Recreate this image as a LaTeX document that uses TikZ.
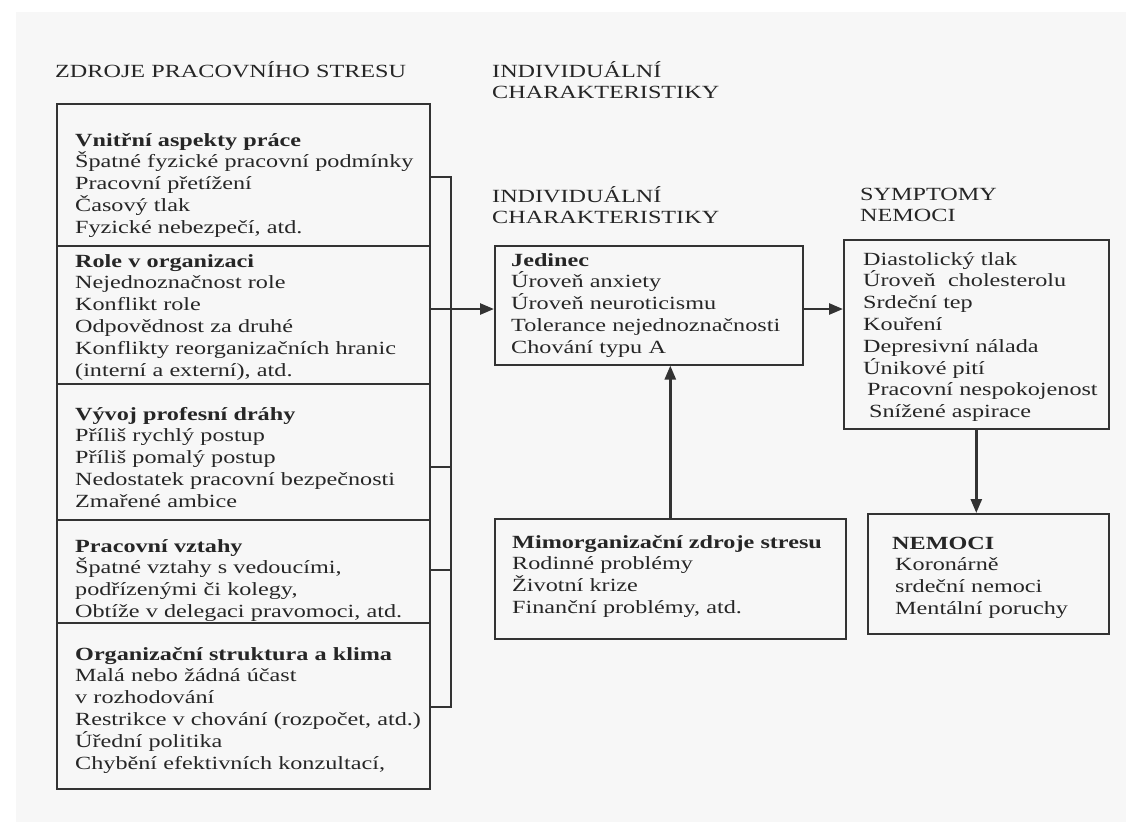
\documentclass[tikz,border=0pt]{standalone}
\usepackage{fontspec}
\setmainfont{Liberation Serif}[FakeStretch=1.3]
\usetikzlibrary{arrows.meta,positioning,calc}

\begin{document}
\begin{tikzpicture}[
      x=1pt,y=-1pt,
      box/.style={draw=black!80,line width=1.6pt,inner sep=0pt,anchor=north west},
      txt/.style={anchor=base west,align=left,text width=420pt,inner sep=0pt,
        text=black!85,font=\fontsize{18.6}{21.8}\selectfont},
      head/.style={txt,font=\fontsize{18.6}{21}\selectfont},
      line/.style={line width=1.6pt,draw=black!80},
      arrow/.style={-{Triangle[length=14pt,width=11pt]},line width=2.6pt,draw=black!80},
      >=Triangle
    ]

    \useasboundingbox (0,0) rectangle (1126,825);
    \fill[black!3] (16,12) rectangle (1126,822);

    % Headings
    \node[head] (hsrc) at (55,77) {ZDROJE PRACOVNÍHO STRESU};
    \node[head] (hind) at (492,77) {INDIVIDUÁLNÍ\\CHARAKTERISTIKY};
    \node[head] (hjed) at (492,202) {INDIVIDUÁLNÍ\\CHARAKTERISTIKY};
    \node[head] (hsym) at (860,200) {SYMPTOMY\\NEMOCI};

    % Sources of stress
    \node[box,minimum width=373pt,minimum height=142pt] (b1) at (56,103) {};
    \node[box,minimum width=373pt,minimum height=138pt] (b2) at (56,245) {};
    \node[box,minimum width=373pt,minimum height=136pt] (b3) at (56,383) {};
    \node[box,minimum width=373pt,minimum height=103pt] (b4) at (56,519) {};
    \node[box,minimum width=373pt,minimum height=166pt] (b5) at (56,622) {};

    \node[txt] (t1) at ([shift={(19,43)}]b1.north west)
      {\textbf{Vnitřní aspekty práce}\\
       Špatné fyzické pracovní podmínky\\
       Pracovní přetížení\\
       Časový tlak\\
       Fyzické nebezpečí, atd.};
    \node[txt] (t2) at ([shift={(19,22)}]b2.north west)
      {\textbf{Role v organizaci}\\
       Nejednoznačnost role\\
       Konflikt role\\
       Odpovědnost za druhé\\
       Konflikty reorganizačních hranic\\
       (interní a externí), atd.};
    \node[txt] (t3) at ([shift={(19,37)}]b3.north west)
      {\textbf{Vývoj profesní dráhy}\\
       Příliš rychlý postup\\
       Příliš pomalý postup\\
       Nedostatek pracovní bezpečnosti\\
       Zmařené ambice};
    \node[txt] (t4) at ([shift={(19,33)}]b4.north west)
      {\textbf{Pracovní vztahy}\\
       Špatné vztahy s vedoucími,\\
       podřízenými či kolegy,\\
       Obtíže v delegaci pravomoci, atd.};
    \node[txt] (t5) at ([shift={(19,38)}]b5.north west)
      {\textbf{Organizační struktura a klima}\\
       Malá nebo žádná účast\\
       v rozhodování\\
       Restrikce v chování (rozpočet, atd.)\\
       Úřední politika\\
       Chybění efektivních konzultací,};

    % Individual, outside and symptoms
    \node[box,minimum width=308pt,minimum height=119pt] (jed) at (494,245) {};
    \node[box,minimum width=351pt,minimum height=120pt] (mim) at (494,518) {};
    \node[box,minimum width=265pt,minimum height=189pt] (sym) at (843,239) {};
    \node[box,minimum width=241pt,minimum height=120pt] (nem) at (867,513) {};

    \node[txt] (tjed) at ([shift={(17,21)}]jed.north west)
      {\textbf{Jedinec}\\
       Úroveň anxiety\\
       Úroveň neuroticismu\\
       Tolerance nejednoznačnosti\\
       Chování typu A};
    \node[txt] (tmim) at ([shift={(18,30)}]mim.north west)
      {\textbf{Mimorganizační zdroje stresu}\\
       Rodinné problémy\\
       Životní krize\\
       Finanční problémy, atd.};
    \node[txt] (tsym) at ([shift={(20,26)}]sym.north west)
      {Diastolický tlak\\
       Úroveň~ cholesterolu\\
       Srdeční tep\\
       Kouření\\
       Depresivní nálada\\
       Únikové pití\\
       \hspace*{4pt}Pracovní nespokojenost\\
       \hspace*{6pt}Snížené aspirace};
    \node[txt] (tnem) at ([shift={(25,36)}]nem.north west)
      {\textbf{NEMOCI}\\
       \hspace*{3pt}Koronárně\\
       \hspace*{3pt}srdeční nemoci\\
       \hspace*{3pt}Mentální poruchy};

    % Bracket joining the sources
    \coordinate (k1) at (451,177);
    \coordinate (k2) at (451,309);
    \coordinate (k3) at (451,467);
    \coordinate (k4) at (451,570);
    \coordinate (k5) at (451,707);

    \draw[line] (b1.east |- k1) -- (k1) -- (k5) -- (b5.east |- k5);
    \draw[line] (b3.east |- k3) -- (k3);
    \draw[line] (b4.east |- k4) -- (k4);

    % Arrows
    \draw[arrow] (b2.east |- k2) -- (k2 -| jed.west);
    \draw[arrow] (jed.east |- k2) -- (k2 -| sym.west);
    \draw[arrow] (mim.north) -- (mim.north |- jed.south);
    \draw[arrow] (sym.south) -- (sym.south |- nem.north);

  \end{tikzpicture}
\end{document}
